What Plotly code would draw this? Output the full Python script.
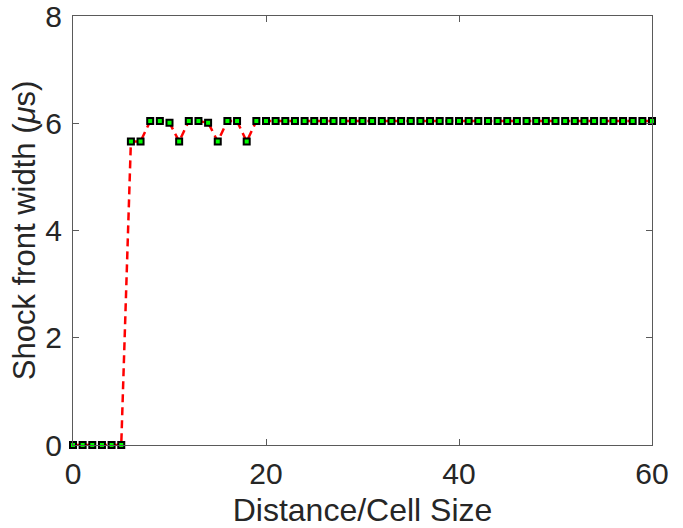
import plotly.graph_objects as go

# Shock front width sampled at each cell position
distance = list(range(0, 61))
width_us = (
    [0.0, 0.0, 0.0, 0.0, 0.0, 0.0,            # 0-5
     5.66, 5.66,                              # 6-7
     6.04, 6.04, 6.01,                        # 8-10
     5.66,                                    # 11
     6.04, 6.04, 6.01,                        # 12-14
     5.66,                                    # 15
     6.04, 6.04,                              # 16-17
     5.66]                                    # 18
    + [6.04] * 42                             # 19-60
)

x_ticks = [0, 20, 40, 60]
y_ticks = [0, 2, 4, 6, 8]

TEXT = "#262626"
LINE = "#5a5a5a"
FONT = "Liberation Sans, Arial, sans-serif"

fig = go.Figure()
fig.add_trace(go.Scatter(
    x=distance,
    y=width_us,
    mode="lines+markers",
    line=dict(color="#ff0000", width=2.5, dash="8px,5px"),
    marker=dict(symbol="square", size=6, color="#00ff00",
                line=dict(color="#000000", width=2)),
    showlegend=False,
    cliponaxis=False,
))

axis_common = dict(
    showline=True, linecolor=LINE, linewidth=1, mirror="ticks",
    ticks="inside", ticklen=6, tickwidth=1, tickcolor=LINE,
    showgrid=False, zeroline=False, automargin=False,
    ticklabeloverflow="allow",
    tickfont=dict(family=FONT, size=30, color=TEXT),
)

fig.update_layout(
    width=683, height=528,
    margin=dict(l=73, r=31, t=16, b=83),
    paper_bgcolor="white", plot_bgcolor="white",
    xaxis=dict(
        range=[0, 60], tickvals=x_ticks, ticktext=[str(v) for v in x_ticks],
        ticklabelstandoff=2,
        title=dict(text="Distance/Cell Size",
                   font=dict(family=FONT, size=32, color=TEXT), standoff=12),
        **axis_common,
    ),
    yaxis=dict(
        range=[0, 8], tickvals=y_ticks, ticktext=[str(v) for v in y_ticks],
        ticklabelstandoff=4,
        title=dict(text="Shock front width (<i>μ</i>s)",
                   font=dict(family=FONT, size=31, color=TEXT), standoff=0),
        **axis_common,
    ),
)

fig.write_html("out.html")
